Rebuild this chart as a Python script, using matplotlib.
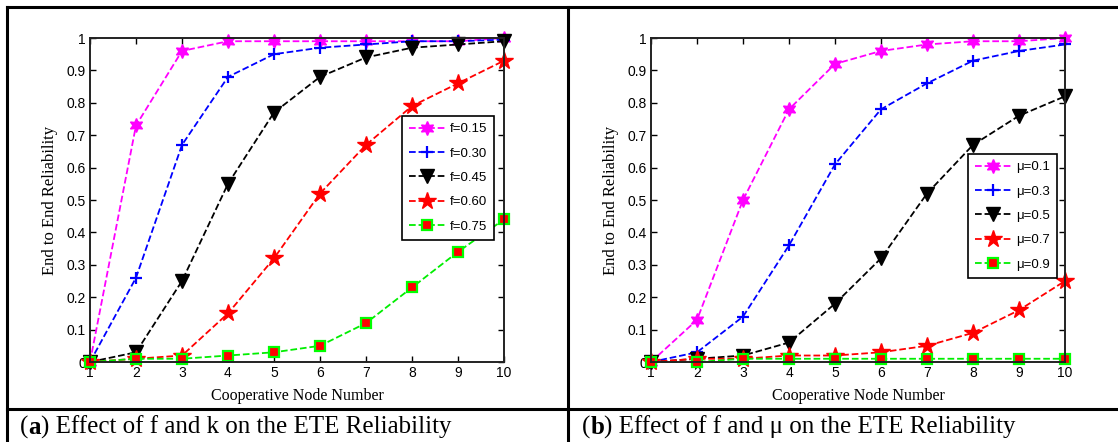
import matplotlib.pyplot as plt
from matplotlib.lines import Line2D

# node numbers on the x axis
nodes = [1, 2, 3, 4, 5, 6, 7, 8, 9, 10]

# panel (a): effect of f
labels_a = ['f=0.15', 'f=0.30', 'f=0.45', 'f=0.60', 'f=0.75']
f015 = [0, 0.73, 0.96, 0.99, 0.99, 0.99, 0.99, 0.99, 0.99, 1.0]
f030 = [0, 0.26, 0.67, 0.88, 0.95, 0.97, 0.98, 0.99, 0.99, 0.995]
f045 = [0, 0.03, 0.25, 0.55, 0.77, 0.88, 0.94, 0.97, 0.98, 0.99]
f060 = [0, 0.01, 0.02, 0.15, 0.32, 0.52, 0.67, 0.79, 0.86, 0.93]
f075 = [0, 0.01, 0.01, 0.02, 0.03, 0.05, 0.12, 0.23, 0.34, 0.44]

# panel (b): effect of mu
labels_b = ['\u03bc=0.1', '\u03bc=0.3', '\u03bc=0.5', '\u03bc=0.7', '\u03bc=0.9']
mu01 = [0, 0.13, 0.50, 0.78, 0.92, 0.96, 0.98, 0.99, 0.99, 1.0]
mu03 = [0, 0.03, 0.14, 0.36, 0.61, 0.78, 0.86, 0.93, 0.96, 0.98]
mu05 = [0, 0.01, 0.02, 0.06, 0.18, 0.32, 0.52, 0.67, 0.76, 0.82]
mu07 = [0, 0.01, 0.01, 0.02, 0.02, 0.03, 0.05, 0.09, 0.16, 0.25]
mu09 = [0, 0, 0.01, 0.01, 0.01, 0.01, 0.01, 0.01, 0.01, 0.01]

yticks = [0, 0.1, 0.2, 0.3, 0.4, 0.5, 0.6, 0.7, 0.8, 0.9, 1]
ytick_labels = ['0', '0.1', '0.2', '0.3', '0.4', '0.5', '0.6', '0.7', '0.8', '0.9', '1']

# MATLAB-like styles: hexagram, plus, down triangle, pentagram, square
styles = [
    dict(color='#ff00ff', marker=(6, 1, 0), ms=10, mfc='#ff00ff', mec='#ff00ff'),
    dict(color='#0000ff', marker='+', ms=9, mew=1.6),
    dict(color='black', marker='v', ms=10, mfc='black', mec='black'),
    dict(color='red', marker='*', ms=13, mfc='red', mec='red'),
    dict(color='#00ee00', marker='s', ms=7, mfc='red', mec='#00ff00', mew=1.6),
]

W, H = 1118, 442
fig = plt.figure(figsize=(W / 100, H / 100), dpi=100)

def px_axes(x0, x1, y0, y1):
    return fig.add_axes([x0 / W, 1 - y1 / H, (x1 - x0) / W, (y1 - y0) / H])

def draw_panel(ax, series, labels, leg_anchor):
    for ys, lab, st in zip(series, labels, styles):
        ax.plot(nodes, ys, linestyle='--', linewidth=1.3, label=lab, clip_on=False, **st)
    ax.set_xlim(1, 10)
    ax.set_ylim(0, 1)
    ax.set_xticks(nodes)
    ax.set_yticks(yticks)
    ax.set_yticklabels(ytick_labels)
    ax.tick_params(direction='in', top=True, right=True, length=4, width=1,
                   labelsize=10, pad=3)
    for lab in ax.get_xticklabels() + ax.get_yticklabels():
        lab.set_family('Liberation Sans')
    for sp in ax.spines.values():
        sp.set_linewidth(1.4)
        sp.set_color('#222222')
    ax.set_xlabel('Cooperative Node Number', family='Liberation Serif', fontsize=11.5, labelpad=6)
    ax.set_ylabel('End to End Reliability', family='Liberation Serif', fontsize=12, labelpad=6)
    leg = ax.legend(loc='upper right', bbox_to_anchor=leg_anchor, borderaxespad=0,
                    fancybox=False, framealpha=1, edgecolor='black',
                    prop={'family': 'Liberation Sans', 'size': 9.5},
                    handlelength=2.7, labelspacing=0.92, borderpad=0.55, handletextpad=0.4)
    leg.get_frame().set_linewidth(1.2)

ax1 = px_axes(90, 504, 38, 362)
draw_panel(ax1, [f015, f030, f045, f060, f075], labels_a, (0.977, 0.760))

ax2 = px_axes(651, 1065, 38, 362)
draw_panel(ax2, [mu01, mu03, mu05, mu07, mu09], labels_b, (0.981, 0.643))

# table borders around the panels
def fig_line(x0, x1, y0, y1):
    fig.add_artist(Line2D([x0 / W, x1 / W], [1 - y0 / H, 1 - y1 / H],
                          color='black', linewidth=2.2, transform=fig.transFigure))

fig_line(7, W, 7, 7)
fig_line(7, 7, 7, H)
fig_line(567.5, 567.5, 7, H)
fig_line(7, W, 409, 409)

# captions, with the panel letter in bold
cap_kw = dict(family='Liberation Serif', fontsize=18, va='center', transform=fig.transFigure)

def caption(x, letter, rest):
    r = fig.canvas.get_renderer()
    t0 = fig.text(x / W, 1 - 427 / H, '(', **cap_kw)
    bb = t0.get_window_extent(r)
    t1 = fig.text(bb.x1 / W, 1 - 427 / H, letter, fontweight='bold', **cap_kw)
    bb = t1.get_window_extent(r)
    fig.text(bb.x1 / W, 1 - 427 / H, ') ' + rest, **cap_kw)

caption(20, 'a', 'Effect of f and k on the ETE Reliability')
caption(582, 'b', 'Effect of f and \u03bc on the ETE Reliability')

fig.savefig('out.png', dpi=100)
